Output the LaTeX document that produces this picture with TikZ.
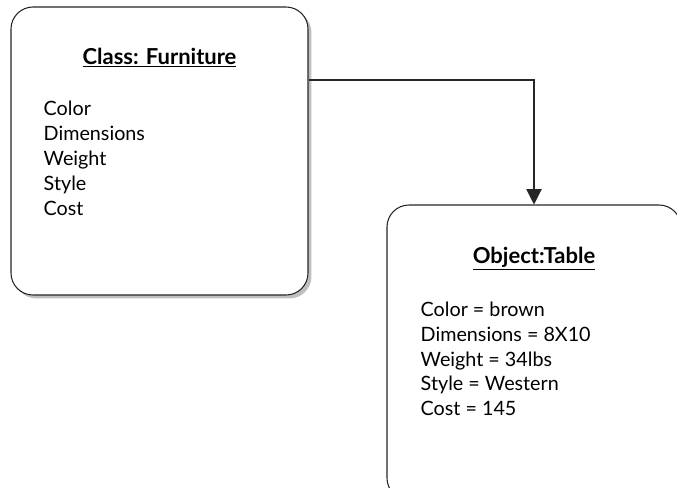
\documentclass[tikz,border=0pt]{standalone}
\usepackage{fontspec}
\setmainfont{Lato}
\usetikzlibrary{arrows.meta,positioning,shadows}

\begin{document}
\begin{tikzpicture}[
      x=0.75pt, y=-0.75pt,
      >={Triangle[width=11.5pt,length=11.5pt]},
      box/.style={draw=black!85, line width=0.8pt, rounded corners=16.5pt, fill=white,
        drop shadow={shadow xshift=2.6pt, shadow yshift=-2.6pt, fill=black!25, opacity=1}},
      ttl/.style={font=\fontsize{16.5}{18}\selectfont\bfseries, inner sep=0pt, anchor=base},
      attrs/.style={font=\fontsize{14.8}{18.6}\selectfont, align=left, inner sep=0pt, anchor=base west}]
    \useasboundingbox (0,0) rectangle (677,487);
    \clip (0,0) rectangle (677,487);
    % class box and the object made from it
    \node[box, minimum width=222.75pt, minimum height=216pt] (cls) at (159.5,151) {};
    \node[box, minimum width=220.5pt, minimum height=221.25pt] (obj) at (534,352.5) {};
    \node[ttl] (clsT) at ([yshift=-43.5pt]cls.north) {\underline{Class: Furniture}};
    \node[ttl] (objT) at ([yshift=-44.25pt]obj.north) {\underline{Object:Table}};
    % anchor base sits on the last of the five lines
    \node[attrs] (clsA) at ([xshift=24.75pt, yshift=-156.4pt]cls.north west)
      {Color\\Dimensions\\Weight\\Style\\Cost};
    \node[attrs] (objA) at ([xshift=25.5pt, yshift=-158.4pt]obj.north west)
      {Color = brown\\Dimensions = 8X10\\Weight = 34lbs\\Style = Western\\Cost = 145};
    \draw[->, line width=0.8pt, draw=black!85] ([yshift=53.25pt]cls.east) -| (obj.north);
  \end{tikzpicture}
\end{document}
